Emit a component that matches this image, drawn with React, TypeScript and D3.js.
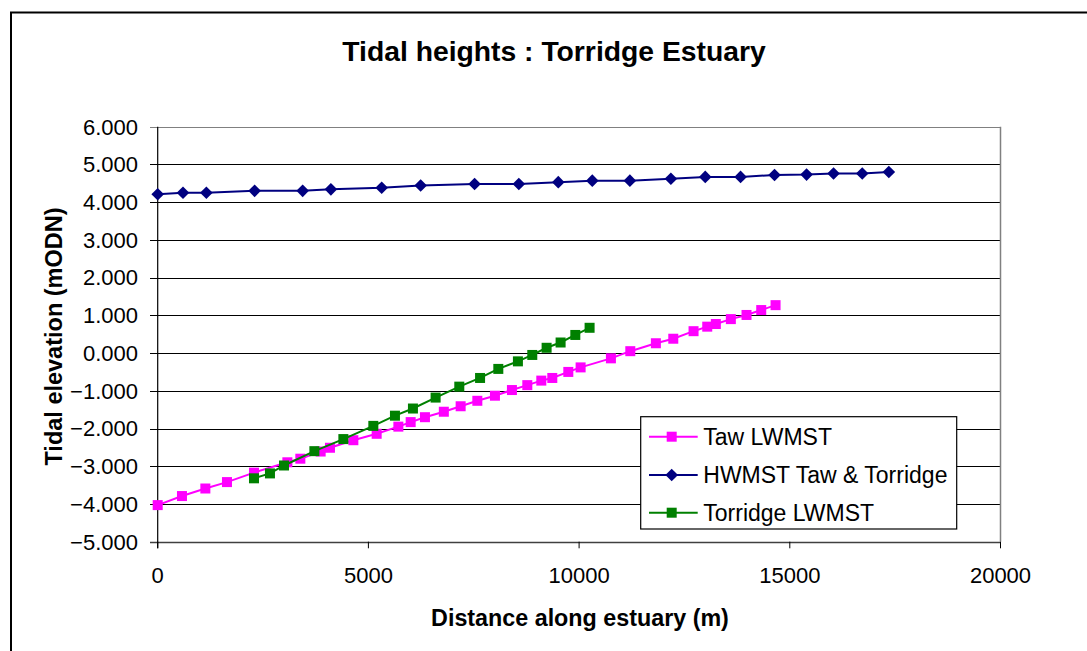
import React from "react";
import * as d3 from "d3";

const tawX = [0, 576, 1131, 1644, 2285, 3077, 3385, 3867, 4088, 4643, 5196, 5711, 6003, 6342, 6790, 7189, 7585, 8003, 8406, 8771, 9103, 9364, 9744, 10036, 10755, 11215, 11822, 12235, 12716, 13041, 13245, 13601, 13973, 14322, 14662];
const tawY = [-4.03, -3.79, -3.59, -3.42, -3.17, -2.895, -2.8, -2.61, -2.51, -2.31, -2.14, -1.95, -1.83, -1.7, -1.555, -1.41, -1.265, -1.13, -0.98, -0.85, -0.73, -0.66, -0.5, -0.38, -0.14, 0.05, 0.26, 0.38, 0.58, 0.7, 0.77, 0.9, 1.01, 1.14, 1.27];

const hwX = [0, 600, 1155, 2300, 3440, 4110, 5315, 6240, 7520, 8570, 9506, 10313, 11205, 12178, 12994, 13832, 14638, 15398, 16038, 16719, 17350];
const hwY = [4.21, 4.25, 4.25, 4.3, 4.3, 4.34, 4.38, 4.44, 4.48, 4.48, 4.53, 4.57, 4.57, 4.62, 4.67, 4.67, 4.72, 4.73, 4.76, 4.76, 4.8];

const torX = [2285, 2664, 2997, 3718, 4406, 5117, 5630, 6057, 6595, 7157, 7650, 8083, 8548, 8889, 9229, 9561, 9910, 10249];
const torY = [-3.32, -3.19, -2.98, -2.6, -2.28, -1.93, -1.66, -1.47, -1.18, -0.89, -0.66, -0.42, -0.22, -0.05, 0.14, 0.28, 0.48, 0.67];

const xTicks = [0, 5000, 10000, 15000, 20000];
const yTicks = [6, 5, 4, 3, 2, 1, 0, -1, -2, -3, -4, -5];

const title = "Tidal heights : Torridge Estuary";
const xTitle = "Distance along estuary (m)";
const yTitle = "Tidal elevation (mODN)";
const seriesNames = ["Taw LWMST", "HWMST Taw & Torridge", "Torridge LWMST"];
const seriesColors = ["#FF00FF", "#000080", "#008000"];

const FONT = "'Liberation Sans', Arial, sans-serif";

export default function App() {
  const left = 157.7, right = 1000.5, top = 126.7, bottom = 541.7;
  const x = d3.scaleLinear().domain([0, 20000]).range([left, right]);
  const y = d3.scaleLinear().domain([-5, 6]).range([bottom, top]);

  const series = [
    { name: seriesNames[0], color: seriesColors[0], xs: tawX, ys: tawY, shape: "square" },
    { name: seriesNames[1], color: seriesColors[1], xs: hwX, ys: hwY, shape: "diamond" },
    { name: seriesNames[2], color: seriesColors[2], xs: torX, ys: torY, shape: "square" },
  ];

  const line = d3
    .line<[number, number]>()
    .x((d) => x(d[0]))
    .y((d) => y(d[1]));

  const marker = (shape: string, cx: number, cy: number, color: string, key: any) => {
    if (shape === "square") {
      const s = 10;
      return <rect key={key} x={cx - s / 2} y={cy - s / 2} width={s} height={s} fill={color} />;
    }
    const r = 6.3;
    return (
      <path
        key={key}
        d={`M${cx},${cy - r}L${cx + r},${cy}L${cx},${cy + r}L${cx - r},${cy}Z`}
        fill={color}
      />
    );
  };

  const legendX = 640.7, legendY = 416.7, legendW = 316, legendH = 112.3;
  const rowYs = [436.7, 475, 512.7];

  return (
    <svg
      width={1087}
      height={651}
      style={{ position: "absolute", left: 0, top: 0, display: "block", background: "#fff" }}
      fontFamily={FONT}
    >
      <rect x={0} y={0} width={1087} height={651} fill="#fff" />
      <rect x={11} y={12.5} width={1100} height={700} fill="none" stroke="#000" strokeWidth={2} />

      <text x={554} y={60.7} textAnchor="middle" fontWeight="bold" fontSize={28.3} fill="#000">
        {title}
      </text>

      {yTicks.map((t) => (
        <line
          key={"g" + t}
          x1={150}
          x2={right}
          y1={Math.round(y(t)) + 0.5}
          y2={Math.round(y(t)) + 0.5}
          stroke={t === 6 ? "#808080" : t === -5 ? "#404040" : "#000"}
          strokeWidth={t === -5 ? 1.5 : 1}
        />
      ))}
      <line x1={right} x2={right} y1={top} y2={bottom} stroke="#808080" strokeWidth={1.5} />
      <line x1={left} x2={left} y1={top} y2={bottom + 6.6} stroke="#000" strokeWidth={1.2} />
      {xTicks.map((t) => (
        <line key={"xt" + t} x1={x(t)} x2={x(t)} y1={bottom} y2={bottom + 6.6} stroke="#000" strokeWidth={1} />
      ))}

      {yTicks.map((t) => (
        <text key={"yl" + t} x={138} y={y(t) + 7.8} textAnchor="end" fontSize={22} fill="#000">
          {d3.format(".3f")(t)}
        </text>
      ))}
      {xTicks.map((t) => (
        <text key={"xl" + t} x={x(t)} y={583} textAnchor="middle" fontSize={22} fill="#000">
          {String(t)}
        </text>
      ))}

      <text x={580} y={626} textAnchor="middle" fontWeight="bold" fontSize={23.3} fill="#000">
        {xTitle}
      </text>
      <text
        transform={`translate(62,${336.5}) rotate(-90)`}
        textAnchor="middle"
        fontWeight="bold"
        fontSize={23.5}
        fill="#000"
      >
        {yTitle}
      </text>

      {series.map((s, i) => {
        const pts: [number, number][] = s.xs.map((v, j) => [v, s.ys[j]]);
        return (
          <g key={"s" + i}>
            <path d={line(pts) || ""} fill="none" stroke={s.color} strokeWidth={2} />
            {pts.map((p, j) => marker(s.shape, x(p[0]), y(p[1]), s.color, j))}
          </g>
        );
      })}

      <rect x={legendX} y={legendY} width={legendW} height={legendH} fill="#fff" stroke="#000" strokeWidth={1.2} />
      {series.map((s, i) => (
        <g key={"l" + i}>
          <line x1={649} x2={697.7} y1={rowYs[i]} y2={rowYs[i]} stroke={s.color} strokeWidth={2} />
          {marker(s.shape, 671.7, rowYs[i], s.color, "m")}
          <text x={703.3} y={rowYs[i] + 8} fontSize={23} fill="#000">
            {s.name}
          </text>
        </g>
      ))}
    </svg>
  );
}
